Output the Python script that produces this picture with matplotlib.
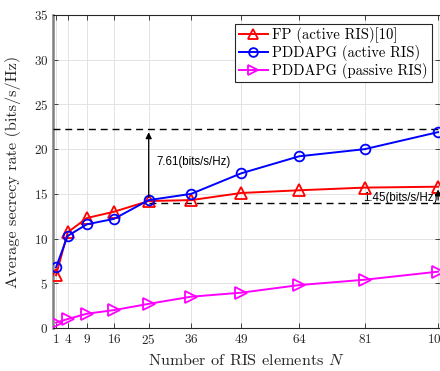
import matplotlib
matplotlib.use("Agg")
import matplotlib.pyplot as plt

N = [1, 4, 9, 16, 25, 36, 49, 64, 81, 100]
fp_active = [5.9, 10.7, 12.3, 13.0, 14.2, 14.3, 15.1, 15.4, 15.7, 15.8]
pdd_active = [6.8, 10.3, 11.6, 12.2, 14.3, 15.0, 17.3, 19.2, 20.0, 21.9]
pdd_passive = [0.6, 1.0, 1.6, 2.0, 2.7, 3.5, 3.95, 4.8, 5.4, 6.3]
labels = ["FP (active RIS)[10]", "PDDAPG (active RIS)", "PDDAPG (passive RIS)"]
upper_level = 22.2
lower_level = 14.0
gap1_text = "7.61(bits/s/Hz)"
gap2_text = "1.45(bits/s/Hz)"

plt.rcParams['font.family'] = ['cmr10', 'DejaVu Serif']
plt.rcParams['mathtext.fontset'] = 'cm'
plt.rcParams['axes.formatter.use_mathtext'] = True

fig = plt.figure(figsize=(4.40, 3.71), dpi=100)
ax = fig.add_axes([53/440, 1-328/371, (440-53)/440, (328-15)/371])

ax.plot(N, fp_active, color='red', marker='^', mfc='none', ms=8, mew=1.3, lw=1.4, label=labels[0], zorder=4)
ax.plot(N, pdd_active, color='blue', marker='o', mfc='none', ms=7, mew=1.3, lw=1.4, label=labels[1], zorder=4)
ax.plot(N, pdd_passive, color='magenta', marker='>', mfc='none', ms=8, mew=1.3, lw=1.4, label=labels[2], zorder=4)

ax.plot([0.2, 100.5], [upper_level, upper_level], 'k--', lw=1.0, dashes=(5, 3.5), zorder=3)
ax.plot([25, 100.5], [lower_level, lower_level], 'k--', lw=1.0, dashes=(5, 3.5), zorder=3)
ax.annotate('', xy=(25, upper_level), xytext=(25, pdd_active[4]),
            arrowprops=dict(arrowstyle='-|>', color='k', lw=0.9, mutation_scale=9), zorder=5)
ax.annotate('', xy=(100, fp_active[-1]), xytext=(100, lower_level),
            arrowprops=dict(arrowstyle='-|>', color='k', lw=0.9, mutation_scale=9), zorder=5)
ax.text(27, 18.6, gap1_text, family='Liberation Sans', fontsize=8.3, va='center', ha='left')
ax.text(80.7, 14.5, gap2_text, family='Liberation Sans', fontsize=8.3, va='center', ha='left')

ax.set_xlim(0.2, 100.5)
ax.set_ylim(0, 35)
ax.set_xticks(N)
ax.set_yticks(range(0, 36, 5))
ax.tick_params(direction='in', top=True, right=True, labelsize=9.5, colors='#262626', length=3.5, width=0.6)
ax.grid(True, color='#e3e3e3', lw=0.7)
ax.set_axisbelow(True)
for s in ax.spines.values():
    s.set_color('#262626')
    s.set_linewidth(0.8)
ax.spines['left'].set_color('#808080')
ax.spines['left'].set_linewidth(1.8)

ax.set_xlabel(r'Number of RIS elements $N$', fontsize=11.7, color='#262626', labelpad=4)
ax.set_ylabel('Average secrecy rate (bits/s/Hz)', fontsize=11.7, color='#262626', labelpad=9)

leg = ax.legend(loc='center',
                bbox_to_anchor=(235/440, 1-82/371, (432-235)/440, (82-24)/371),
                bbox_transform=fig.transFigure, fontsize=10.5, mode='expand',
                frameon=True, fancybox=False, edgecolor='#262626', framealpha=1,
                handlelength=2.0, handletextpad=0.3, borderpad=0.25, labelspacing=0.12,
                borderaxespad=0, markerscale=0.9)
leg.get_frame().set_linewidth(0.8)

fig.savefig('out.png', dpi=100)
